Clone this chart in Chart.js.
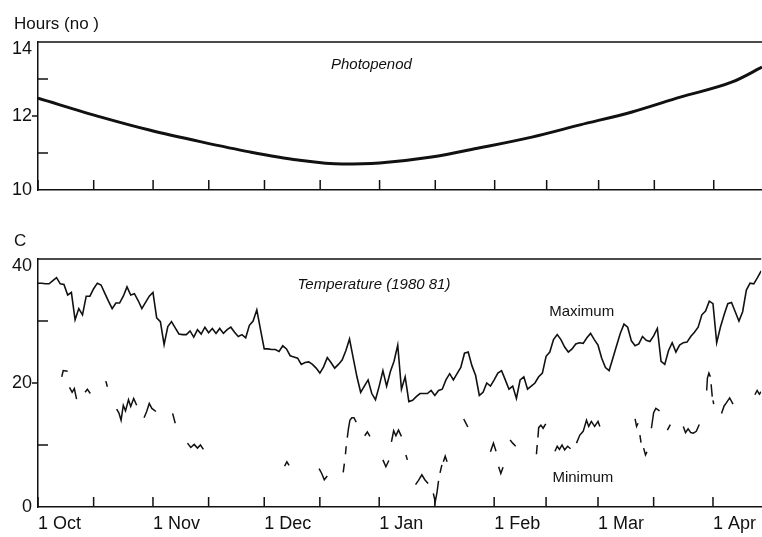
<!DOCTYPE html>
<html>
<head>
<meta charset="utf-8">
<script src="https://cdn.jsdelivr.net/npm/chart.js@4.4.1/dist/chart.umd.min.js"></script>
<style>
  html, body { margin: 0; padding: 0; background: #fff; }
  #wrap { position: relative; width: 762px; height: 537px; }
  #top { position: absolute; left: 0; top: 0; width: 762px; height: 215px; }
  #bottom { position: absolute; left: 0; top: 215px; width: 762px; height: 322px; }
</style>
</head>
<body>
<div id="wrap">
  <div id="top"><canvas id="photoChart"></canvas></div>
  <div id="bottom"><canvas id="tempChart"></canvas></div>
</div>
<script>
// day 0 = 1 Oct 1980
const tickDays = [0, 15, 31, 46, 61, 76, 92, 107, 123, 137, 151, 166, 182];
const tickLabels = ['1 Oct', '', '1 Nov', '', '1 Dec', '', '1 Jan', '', '1 Feb', '', '1 Mar', '', '1 Apr'];

// photoperiod (hours)
const photoDays  = [0, 17, 30, 44, 57, 70, 82, 92, 106, 119, 133, 146, 160, 173, 187, 195];
const photoHours = [12.48, 11.97, 11.62, 11.30, 11.03, 10.81, 10.70, 10.73, 10.89, 11.14, 11.43, 11.76, 12.11, 12.51, 12.92, 13.32];

// daily maximum temperature, day 0..195
const maxTemps = [
  36.1, 36.1, 36.0, 36.0, 36.5, 37.0, 36.0, 35.9, 34.2, 34.6,
  30.2, 32.0, 31.0, 34.0, 34.0, 35.2, 36.1, 35.8, 34.5, 33.2,
  32.0, 32.9, 32.9, 34.0, 35.5, 34.2, 34.4, 33.3, 32.0, 33.0,
  34.0, 34.6, 30.5, 29.9, 26.2, 29.1, 29.9, 28.9, 27.9, 27.8,
  27.8, 28.4, 27.4, 28.6, 27.9, 29.0, 28.1, 28.8, 28.0, 28.8,
  28.0, 28.6, 29.0, 28.2, 27.5, 27.8, 27.3, 29.3, 30.0, 31.8,
  28.6, 25.5, 25.5, 25.4, 25.4, 25.1, 26.0, 25.5, 24.4, 24.2,
  24.0, 23.0, 23.3, 23.4, 23.0, 22.4, 21.6, 22.6, 24.1, 23.3,
  22.4, 23.0, 23.7, 25.2, 27.1, 24.0, 21.0, 18.5, 19.5, 20.5,
  18.3, 17.3, 19.5, 22.0, 19.5, 21.8, 23.5, 26.1, 19.0, 21.0,
  17.0, 17.2, 17.8, 18.3, 18.3, 18.3, 18.8, 18.0, 18.8, 19.0,
  20.5, 21.5, 20.5, 21.5, 22.5, 24.8, 25.0, 22.8, 21.2, 18.0,
  18.5, 20.0, 19.5, 20.5, 21.6, 22.0, 20.5, 19.0, 19.5, 17.5,
  20.5, 21.0, 19.0, 19.5, 20.0, 21.0, 21.6, 24.3, 25.0, 27.0,
  27.8, 27.0, 25.8, 25.0, 25.5, 26.3, 26.5, 26.4, 27.3, 28.0,
  27.0, 26.1, 24.0, 22.5, 22.0, 24.0, 26.0, 28.0, 29.5, 29.0,
  26.8, 26.0, 26.3, 27.5, 26.9, 26.7, 27.6, 28.8, 23.5, 23.0,
  25.2, 26.5, 25.0, 26.1, 26.5, 26.6, 27.5, 28.2, 29.0, 31.0,
  31.6, 33.2, 32.8, 26.5, 29.0, 31.0, 32.8, 33.0, 31.5, 30.0,
  31.5, 35.0, 36.1, 36.0, 37.0, 38.1
];

// minimum temperature: broken record, null = missing
const minDays = [
  6.4, 6.8, 8.0, 8.2,
  8.5, 9.2, 9.8, 10.4, 11,
  12.7, 13.3, 14.1, 15,
  18.3, 18.7, 20,
  21.2, 21.8, 22.4, 23.0, 23.6, 24.4, 25.0, 25.8, 26.6, 27.5,
  28.6, 29.3, 30.0, 30.7, 31.8, 34,
  36.3, 37.0, 38,
  40.3, 41.2, 42.1, 43.0, 43.8, 44.6, 50,
  66.5, 67.1, 67.7, 70,
  75.8, 76.5, 77.2, 78.0, 80,
  82.3, 82.6, 82.75, 82.9, 83.1, 83.25, 83.4, 83.7, 84.1, 84.6, 85.2, 85.8, 87,
  88.1, 88.8, 89.5, 91,
  93.0, 93.8, 94.6, 95,
  95.3, 95.9, 96.5, 97.2, 98.0, 98.8,
  99.2, 99.6, 100.5,
  101.8, 102.6, 103.5, 104.3, 105.2, 106,
  106.6, 107.1, 107.6, 108.0, 108.2, 108.4, 108.9, 109.1, 109.3, 109.8, 110.3, 112,
  114.8, 115.3, 115.9, 118,
  122.0, 122.8, 123.5, 123.85,
  124.2, 124.8, 125.4, 126,
  127.3, 128.0, 128.8, 130,
  134.4, 134.6, 134.7, 134.8, 135.0, 135.6, 136.2, 136.9, 138,
  139.4, 140.0, 140.6, 141.3, 142.0, 142.8, 143.6, 144.4,
  145.2, 146.1, 147.0, 147.9, 148.5, 149.2, 150.1, 151.0, 151.5, 155,
  161.0, 161.4, 161.8, 162.0, 162.3, 162.6, 162.9, 163.3, 163.8, 164.2, 164.8,
  165.4, 166.0, 166.6, 167.6, 168.5,
  169.7, 170.5, 172,
  174.0, 174.6, 175.3, 176.0, 176.7, 177.5, 178.3, 179.5,
  180.3, 180.5, 180.9, 181.3, 181.4, 181.5, 181.8, 181.9, 182.0, 182.2, 183,
  184.3, 185.0, 185.6, 186.5, 187.4, 190,
  193.3, 193.9, 194.5, 195.0
];
const minTemps = [
  21.0, 22.0, 21.9, null,
  19.3, 18.5, 19.1, 17.4, null,
  18.5, 19.0, 18.3, null,
  20.3, 19.4, null,
  15.8, 15.2, 14.0, 16.4, 15.5, 17.3, 16.2, 17.5, 16.4, null,
  14.4, 15.4, 16.7, 15.9, 15.4, null,
  15.1, 13.5, null,
  10.3, 9.6, 10.1, 9.5, 10.0, 9.3, null,
  6.6, 7.3, 6.7, null,
  6.2, 5.4, 4.4, 5.0, null,
  5.6, 7.0, null, 8.5, 9.8, null, 11.2, 12.6, 14.0, 14.4, 14.4, 13.7, null,
  11.5, 12.1, 11.4, null,
  7.6, 6.5, 7.5, null,
  10.5, 12.3, 11.5, 12.4, 11.4, null,
  8.4, 7.6, null,
  3.6, 4.3, 5.2, 4.4, 3.8, null,
  2.2, 0.8, 2.4, 4.2, null, 5.5, 6.8, null, 7.3, 8.2, 7.3, null,
  14.2, 13.6, 12.9, null,
  8.9, 10.3, 9.0, null,
  6.5, 5.4, 6.4, null,
  10.8, 10.3, 9.8, null,
  8.5, 10.0, null, 11.2, 12.8, 13.2, 12.7, 13.4, null,
  9.0, 9.8, 9.3, 10.0, 9.2, 9.8, 9.4, null,
  10.3, 11.6, 12.2, 14.0, 13.0, 13.8, 13.0, 13.8, 13.0, null,
  14.2, 13.0, 13.5, null, 11.6, 10.4, null, 9.5, 8.4, 8.9, null,
  12.7, 15.2, 15.9, 15.5, null,
  12.4, 13.3, null,
  13.0, 12.0, 12.6, 12.0, 11.9, 12.2, 13.3, null,
  18.8, 20.8, 21.6, 21.0, null, 19.8, 17.8, null, 17.2, 16.6, null,
  15.1, 16.3, 16.8, 17.6, 16.6, null,
  18.1, 18.8, 18.2, 18.6
];

const INK = '#111';
Chart.defaults.font.family = "'Liberation Sans', Arial, sans-serif";
Chart.defaults.color = INK;

// top border, inward ticks and the text notes
const frame = {
  id: 'frame',
  afterDraw(chart, args, opts) {
    const {ctx, chartArea: a, scales: {x, y}} = chart;
    ctx.save();
    ctx.strokeStyle = INK;
    ctx.lineWidth = 1.5;
    ctx.beginPath();
    ctx.moveTo(a.left, a.top);
    ctx.lineTo(a.right, a.top);
    x.ticks.forEach(t => {
      const px = x.getPixelForValue(t.value);
      ctx.moveTo(px, a.bottom);
      ctx.lineTo(px, a.bottom - 10);
    });
    y.ticks.forEach(t => {
      if (t.value <= y.min || t.value >= y.max) return;
      const py = y.getPixelForValue(t.value);
      if (t.value % opts.major === 0) {
        ctx.moveTo(a.left - 6, py);
        ctx.lineTo(a.left, py);
      } else {
        ctx.moveTo(a.left, py);
        ctx.lineTo(a.left + 10, py);
      }
    });
    ctx.stroke();
    ctx.fillStyle = INK;
    ctx.textBaseline = 'middle';
    ctx.font = "17px 'Liberation Sans', Arial, sans-serif";
    ctx.textAlign = 'left';
    ctx.fillText(opts.unit, 14, a.top - 18);
    opts.notes.forEach(n => {
      ctx.font = n.font;
      ctx.textAlign = 'center';
      ctx.fillText(n.text, x.getPixelForValue(n.day), y.getPixelForValue(n.value));
    });
    ctx.restore();
  }
};

function xAxis(height, showLabels) {
  return {
    type: 'linear',
    min: 0,
    max: 195,
    afterBuildTicks: s => { s.ticks = tickDays.map(v => ({value: v})); },
    afterFit: s => { s.height = height; },
    grid: {display: false, drawTicks: false},
    border: {display: true, color: INK, width: 1.5},
    ticks: {
      display: showLabels,
      autoSkip: false,
      maxRotation: 0,
      align: 'start',
      padding: 6,
      font: {size: 18},
      callback: (v, i) => tickLabels[i]
    }
  };
}

function yAxis(min, max, step, major) {
  return {
    min: min,
    max: max,
    afterFit: s => { s.width = 38; },
    grid: {display: false, drawTicks: false},
    border: {display: true, color: INK, width: 1.5},
    ticks: {
      stepSize: step,
      padding: 6,
      font: {size: 18, lineHeight: 0.8},
      // top label sits just under the frame line, as in the print
      callback: v => (v % major !== 0 ? '' : v === max ? ['', String(v)] : v)
    }
  };
}

new Chart(document.getElementById('photoChart'), {
  type: 'line',
  data: {
    datasets: [{
      data: photoDays.map((d, i) => ({x: d, y: photoHours[i]})),
      borderColor: INK,
      borderWidth: 3,
      pointRadius: 0,
      cubicInterpolationMode: 'monotone'
    }]
  },
  options: {
    animation: false,
    responsive: true,
    maintainAspectRatio: false,
    layout: {padding: {top: 42, left: 0, right: 0, bottom: 0}},
    scales: {x: xAxis(25, false), y: yAxis(10, 14, 1, 2)},
    plugins: {
      legend: {display: false},
      tooltip: {enabled: false},
      frame: {
        major: 2,
        unit: 'Hours (no )',
        notes: [{text: 'Photopenod', day: 89.8, value: 13.38, font: "italic 15px 'Liberation Sans', Arial, sans-serif"}]
      }
    }
  },
  plugins: [frame]
});

new Chart(document.getElementById('tempChart'), {
  type: 'line',
  data: {
    datasets: [{
      label: 'Maximum',
      data: maxTemps.map((t, i) => ({x: i, y: t})),
      borderColor: INK,
      borderWidth: 1.6,
      pointRadius: 0,
      tension: 0
    }, {
      label: 'Minimum',
      data: minDays.map((d, i) => ({x: d, y: minTemps[i]})),
      borderColor: INK,
      borderWidth: 1.5,
      pointRadius: 0,
      spanGaps: false,
      tension: 0
    }]
  },
  options: {
    animation: false,
    responsive: true,
    maintainAspectRatio: false,
    layout: {padding: {top: 44, left: 0, right: 0, bottom: 0}},
    scales: {x: xAxis(30, true), y: yAxis(0, 40, 10, 20)},
    plugins: {
      legend: {display: false},
      tooltip: {enabled: false},
      frame: {
        major: 20,
        unit: 'C',
        notes: [
          {text: 'Temperature (1980 81)', day: 90.6, value: 35.8, font: "italic 15px 'Liberation Sans', Arial, sans-serif"},
          {text: 'Maximum', day: 146.6, value: 31.5, font: "15px 'Liberation Sans', Arial, sans-serif"},
          {text: 'Minimum', day: 146.9, value: 4.7, font: "15px 'Liberation Sans', Arial, sans-serif"}
        ]
      }
    }
  },
  plugins: [frame]
});
</script>
</body>
</html>
